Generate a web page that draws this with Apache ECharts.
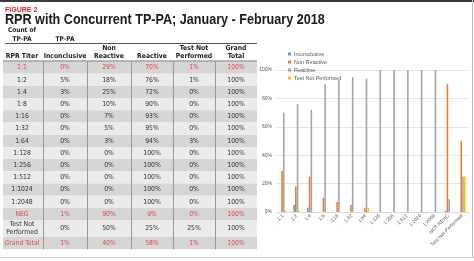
<!DOCTYPE html>
<html><head><meta charset="utf-8">
<script src="https://cdn.jsdelivr.net/npm/echarts@6/dist/echarts.min.js"></script>
<style>html,body{margin:0;padding:0;background:#fff}#c{width:474px;height:261px}</style>
</head><body><div id="c"></div>
<script>
// ---- data ----
const figureLabel = 'FIGURE 2';
const title = 'RPR with Concurrent TP-PA; January - February 2018';
const headers = ['RPR Titer', 'Inconclusive', 'Non\nReactive', 'Reactive', 'Test Not\nPerformed', 'Grand\nTotal'];
const rowLabels = ['1:1','1:2','1:4','1:8','1:16','1:32','1:64','1:128','1:256','1:512','1:1024','1:2048','NEG','Test Not\nPerformed','Grand Total'];
const redRows = [0, 12, 14];
const inconclusive = [0,5,3,0,0,0,0,0,0,0,0,0,1,0,1];
const nonReactive  = [29,18,25,10,7,5,3,0,0,0,0,0,90,50,40];
const reactive     = [70,76,72,90,93,95,94,100,100,100,100,100,9,25,58];
const notPerformed = [1,1,0,0,0,0,3,0,0,0,0,0,0,25,1];
const grandTotal   = [100,100,100,100,100,100,100,100,100,100,100,100,100,100,100];
const chartCategories = ['1:1','1:2','1:4','1:8','1:16','1:32','1:64','1:128','1:256','1:512','1:1024','1:2048','NOT REAC','Test Not Performed'];
const seriesNames = ['Inconclusive','Non Reactive','Reactive','Test Not Performed'];
const yTicks = [0,20,40,60,80,100];

// ---- layout ----
const FN = '"Liberation Sans Narrow","DejaVu Sans Condensed","Liberation Sans",Arial,sans-serif';
const colCenters = [22, 65, 109, 152, 194, 236];
const colSeps = [43, 87, 131, 173, 215];
const tblL = 3, tblR = 257;
const g = [];
// top bar
g.push({type:'rect', shape:{x:0,y:0,width:474,height:2}, style:{fill:'#3a3a3a'}});
g.push({type:'text', style:{text:figureLabel, x:5, y:10, font:'bold 7px "Liberation Sans",Arial,sans-serif', fill:'#e3262c', verticalAlign:'middle'}});
g.push({type:'text', x:5, y:19.5, scaleX:0.84, style:{text:title, x:0, y:0, font:'bold 15px "Liberation Sans",Arial,sans-serif', fill:'#1a1a1a', verticalAlign:'middle'}});
g.push({type:'text', style:{text:'Count of\nTP-PA', x:22, y:35, font:'bold 6.5px '+FN, fill:'#222', align:'center', verticalAlign:'middle', lineHeight:9}});
g.push({type:'text', style:{text:'TP-PA', x:65, y:39.5, font:'bold 6.5px '+FN, fill:'#222', align:'center', verticalAlign:'middle'}});
g.push({type:'line', shape:{x1:5,y1:43.5,x2:tblR,y2:43.5}, style:{stroke:'#555',lineWidth:1}});
headers.forEach((h,i)=>{
  const two = h.indexOf('\n')>=0;
  g.push({type:'text', style:{text:h, x:colCenters[i], y: two?52:56.5, font:'bold 6.8px '+FN, fill:'#222', align:'center', verticalAlign:'middle', lineHeight:8.5}});
});
// rows
let y = 61.5;
const rowH = rowLabels.map(l => l.indexOf('\n')>=0 ? 17 : 12.2);
const cols = [inconclusive, nonReactive, reactive, notPerformed, grandTotal];
rowLabels.forEach((lab, r)=>{
  const h = rowH[r];
  g.push({type:'rect', shape:{x:tblL,y:y,width:tblR-tblL,height:h}, style:{fill: r%2===0 ? '#d6d6d6' : '#ebebeb'}});
  const red = redRows.indexOf(r)>=0;
  const fill = red ? '#e0474c' : '#333';
  g.push({type:'text', style:{text:lab, x:colCenters[0], y:y+h/2, font:'6.8px '+FN, fill, align:'center', verticalAlign:'middle', lineHeight:8}});
  cols.forEach((arr,c)=>{
    g.push({type:'text', style:{text:arr[r]+'%', x:colCenters[c+1], y:y+h/2, font:'6.8px '+FN, fill, align:'center', verticalAlign:'middle'}});
  });
  y += h;
});
const tblB = y;
colSeps.forEach(x=>{
  g.push({type:'line', shape:{x1:x+0.5,y1:61.5,x2:x+0.5,y2:tblB}, style:{stroke:'#9a9a9a',lineWidth:1}});
});
g.push({type:'line', shape:{x1:tblL,y1:61,x2:tblR,y2:61}, style:{stroke:'#777',lineWidth:1}});
// frame
g.push({type:'line', shape:{x1:472.5,y1:0,x2:472.5,y2:258}, style:{stroke:'#bdbdbd',lineWidth:1}});
g.push({type:'line', shape:{x1:0,y1:257.5,x2:474,y2:257.5}, style:{stroke:'#cfcfcf',lineWidth:1}});

const colors = ['#5b9bd5','#ed7d31','#a5a5a5','#ffc000'];
const srcArrays = [inconclusive, nonReactive, reactive, notPerformed];
const chart = echarts.init(document.getElementById('c'), null, {renderer:'canvas'});
chart.setOption({
  animation:false,
  color: colors,
  graphic: g,
  legend:{
    orient:'vertical', left:283, top:46, itemWidth:3, itemHeight:3, itemGap:2,
    icon:'rect', data: seriesNames,
    textStyle:{fontSize:5.5, color:'#595959', lineHeight:6, fontFamily:'"Liberation Sans",Arial,sans-serif', padding:[0,0,0,-2]}
  },
  grid:{left:276, right:5, top:70, bottom:49, containLabel:false},
  xAxis:{
    type:'category', data: chartCategories,
    axisLine:{lineStyle:{color:'#d9d9d9'}}, axisTick:{show:false},
    axisLabel:{interval:0, rotate:45, fontSize:5, color:'#595959', margin:3, fontFamily:'"Liberation Sans",Arial,sans-serif'}
  },
  yAxis:{
    type:'value', min:0, max:100, interval:20,
    axisLabel:{formatter:'{value}%', fontSize:5, color:'#595959', margin:4, fontFamily:'"Liberation Sans",Arial,sans-serif'},
    splitLine:{lineStyle:{color:'#e6e6e6'}}, axisLine:{show:false}, axisTick:{show:false}
  },
  series: seriesNames.map((n,i)=>({
    name:n, type:'bar', barWidth:1.6, barGap:'10%',
    data: srcArrays[i].slice(0, chartCategories.length)
  }))
});
</script></body></html>
